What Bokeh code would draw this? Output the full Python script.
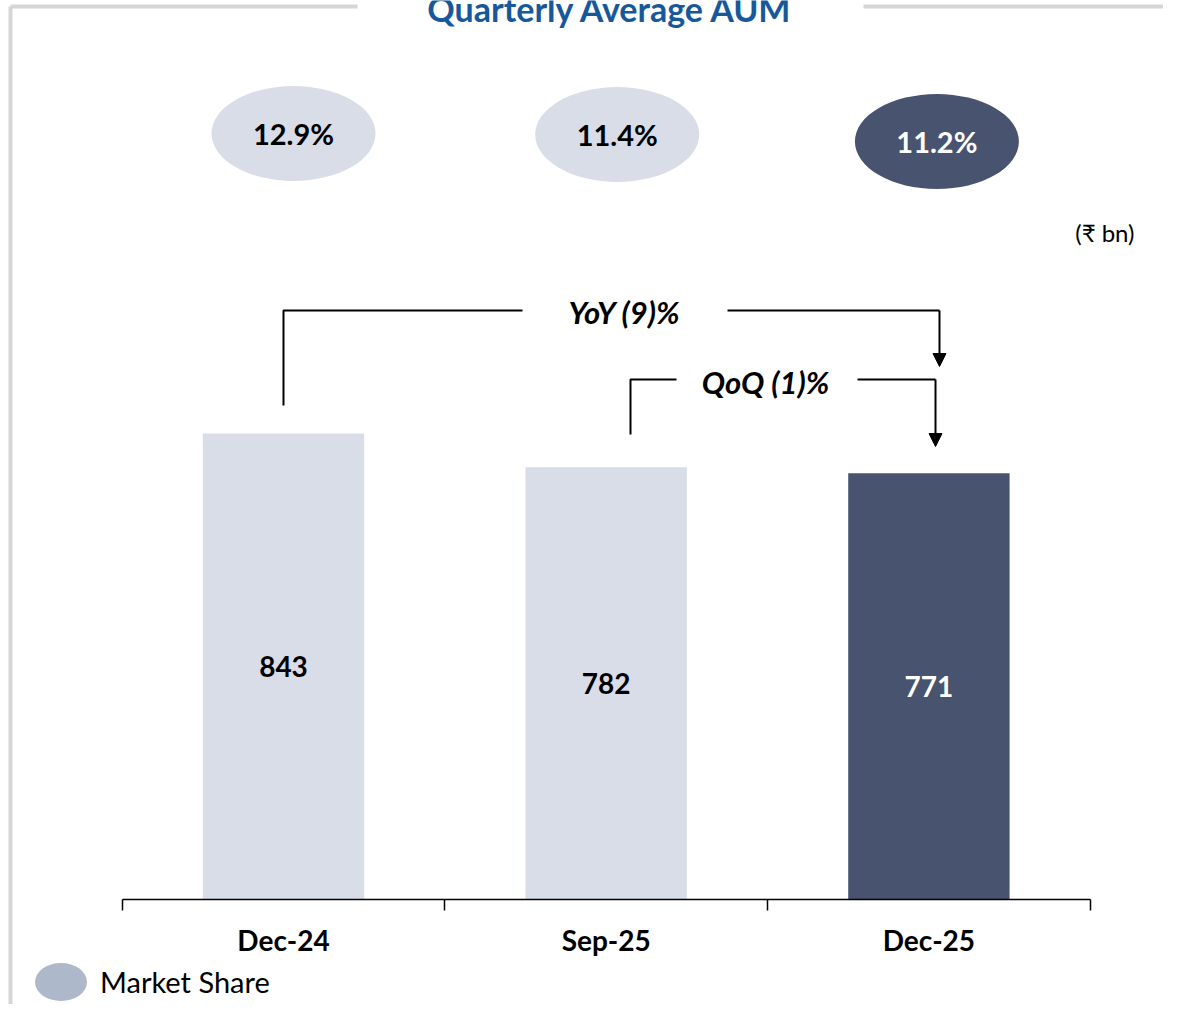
from bokeh.plotting import figure
from bokeh.models import (Range1d, FixedTicker, Arrow, NormalHead, Legend,
                          LegendItem, ColumnDataSource)
from bokeh.core.properties import value
from bokeh.embed import file_html
from bokeh.resources import INLINE

# ---------------- data ----------------
categories = ["Dec-24", "Sep-25", "Dec-25"]
aum_bn = [843, 782, 771]
market_share = [12.9, 11.4, 11.2]
share_labels = ["12.9%", "11.4%", "11.2%"]
yoy_text = "YoY (9)%"
qoq_text = "QoQ (1)%"
title_text = "Quarterly Average AUM"
unit_text = "(\u20b9 bn)"
legend_text = "Market Share"

# ---------------- styles ----------------
LIGHT = "#d9dde8"
DARK = "#47536f"
LEGEND_C = "#adb9ca"
BLUE = "#17589b"
FONT = "Lato"
bar_colors = [LIGHT, LIGHT, DARK]
text_colors = ["black", "black", "white"]

W, H = 1163, 1004
PXX = 322.7     # px per category
PXY = 0.5528    # px per bn
X0 = -283 / PXX
Y_TOP = 899 / PXY
Y0 = Y_TOP - H / PXY


def X(px):  # picture px -> data x
    return X0 + px / PXX


def Y(py):  # picture px -> data y
    return (899 - py) / PXY


p = figure(width=W, height=H, output_backend="svg", toolbar_location=None,
           x_range=Range1d(X0, X0 + W / PXX), y_range=Range1d(Y0, Y_TOP),
           y_axis_location=None, min_border=0)
p.outline_line_color = None
p.xgrid.visible = False
p.ygrid.visible = False
p.background_fill_color = "white"

idx = list(range(len(categories)))

# bars
src = ColumnDataSource(dict(x=idx, top=aum_bn, color=bar_colors, tc=text_colors,
                            mid=[v / 2 for v in aum_bn], lab=[str(v) for v in aum_bn]))
p.vbar(x="x", top="top", bottom=0, width=0.5, fill_color="color", line_color=None, source=src)
p.text(x="x", y="mid", text="lab", text_color="tc", source=src, text_align="center",
       text_baseline="middle", text_font=value(FONT), text_font_style="bold",
       text_font_size="28px")

# axis
ax = p.xaxis[0]
ax.fixed_location = 0
ax.ticker = FixedTicker(ticks=idx, minor_ticks=[i - 0.5 for i in range(len(categories) + 1)])
ax.bounds = (-0.5, len(categories) - 0.5)
ax.major_label_overrides = {i: c for i, c in enumerate(categories)}
ax.major_tick_out = 0
ax.major_tick_in = 0
ax.minor_tick_out = 11
ax.minor_tick_in = 0
ax.minor_tick_line_color = "black"
ax.minor_tick_line_width = 1.5
ax.axis_line_color = "black"
ax.axis_line_width = 1.5
ax.major_label_standoff = 12
ax.major_label_text_font = FONT
ax.major_label_text_font_style = "bold"
ax.major_label_text_font_size = "28px"
ax.major_label_text_color = "black"

# market share ovals
oval_dx = [10, 11, 8]
oval_py = [133, 134, 141]
osrc = ColumnDataSource(dict(x=[i + d / PXX for i, d in zip(idx, oval_dx)],
                             y=[Y(v) for v in oval_py], lab=share_labels,
                             color=bar_colors, tc=text_colors))
p.ellipse(x="x", y="y", width=164, height=95, width_units="screen",
          height_units="screen", fill_color="color", line_color=None, source=osrc)
p.text(x="x", y="y", text="lab", text_color="tc", source=osrc, text_align="center",
       text_baseline="middle", text_font=value(FONT), text_font_style="bold",
       text_font_size="29px")

# title, unit, frame decoration
p.text(x=[X(610)], y=[Y(8)], text=[title_text], text_align="center",
       text_baseline="alphabetic", text_font=value(FONT), text_font_style="bold",
       text_font_size="34px", text_color=BLUE)
p.text(x=[X(1134)], y=[Y(232)], text=[unit_text], text_align="right",
       text_baseline="middle", text_font=value(FONT), text_font_size="24px",
       text_color="black")
p.segment(x0=[X(10), X(10), X(863)], y0=[Y(1020), Y(6), Y(6)],
          x1=[X(10), X(357), X(1180)], y1=[Y(6), Y(6), Y(6)],
          line_color="#d6d6d6", line_width=4)

# YoY bracket
yoy_h = Y(310)
p.line(x=[0, 0, X(522)], y=[Y(405), yoy_h, yoy_h], line_color="black", line_width=2)
p.line(x=[X(727), X(939)], y=[yoy_h, yoy_h], line_color="black", line_width=2)
p.add_layout(Arrow(x_start=X(939), y_start=yoy_h, x_end=X(939), y_end=Y(366),
                   line_color="black", line_width=2,
                   end=NormalHead(size=13, fill_color="black", line_color="black")))
p.text(x=[X(624)], y=[Y(311)], text=[yoy_text], text_align="center", text_baseline="middle",
       text_font=value(FONT), text_font_style="bold italic", text_font_size="31px")

# QoQ bracket
qoq_h = Y(379)
p.line(x=[X(630), X(630), X(676)], y=[Y(434), qoq_h, qoq_h], line_color="black", line_width=2)
p.line(x=[X(857), X(935)], y=[qoq_h, qoq_h], line_color="black", line_width=2)
p.add_layout(Arrow(x_start=X(935), y_start=qoq_h, x_end=X(935), y_end=Y(446),
                   line_color="black", line_width=2,
                   end=NormalHead(size=13, fill_color="black", line_color="black")))
p.text(x=[X(765)], y=[Y(381)], text=[qoq_text], text_align="center", text_baseline="middle",
       text_font=value(FONT), text_font_style="bold italic", text_font_size="31px")

# legend (key glyph lives below the visible y range)
key = p.ellipse(x=[0], y=[Y0 - 500], width=52, height=38, width_units="screen",
                height_units="screen", fill_color=LEGEND_C, line_color=None)
leg = Legend(items=[LegendItem(label=legend_text, renderers=[key])],
             location=(28, -10), glyph_width=65, glyph_height=65, label_standoff=7,
             label_text_font=FONT, label_text_font_size="29px", label_text_color="black",
             padding=0, margin=0, border_line_alpha=0, background_fill_alpha=0)
p.add_layout(leg)

open("out.html", "w").write(file_html(p, INLINE))
